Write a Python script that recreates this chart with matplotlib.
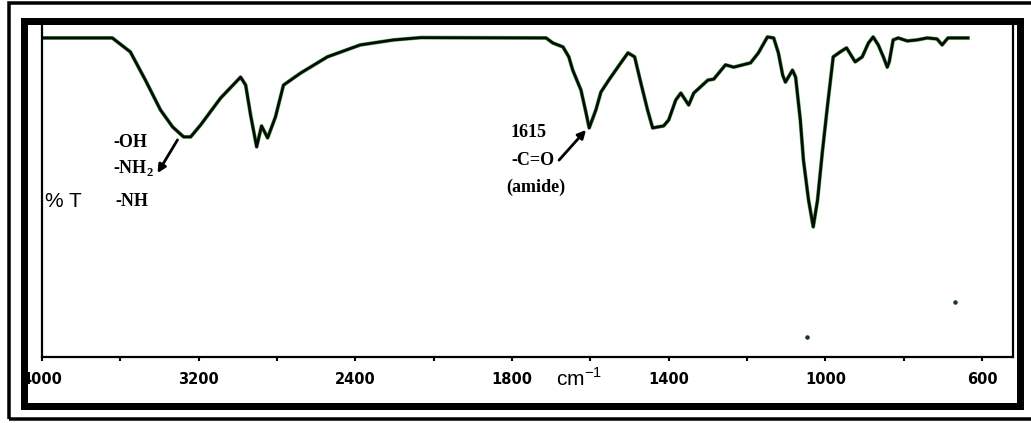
import numpy as np
import matplotlib
matplotlib.use('Agg')
import matplotlib.pyplot as plt
from matplotlib.patches import Rectangle

# FTIR spectrum (wavenumber cm-1, %T on a 0-100 scale)
wavenumber = [4000, 3641, 3549, 3472, 3395, 3333, 3277, 3241, 3190, 3088,
              2986, 2960, 2935, 2904, 2879, 2848, 2808, 2767, 2680, 2543,
              2381, 2254, 2150, 1713, 1696, 1670, 1655, 1645, 1624, 1611,
              1603, 1586, 1573, 1553, 1530, 1504, 1487, 1471, 1454, 1441,
              1413, 1400, 1382, 1369, 1349, 1336, 1300, 1285, 1255, 1234,
              1191, 1171, 1148, 1132, 1120, 1109, 1102, 1084, 1076, 1064,
              1056, 1043, 1031, 1020, 1008, 995, 980, 962, 946, 924,
              906, 890, 878, 865, 852, 842, 837, 827, 814, 791,
              766, 740, 715, 702, 687, 636]
transmittance = [96.1, 96.1, 91.9, 83.4, 74.4, 69.3, 66.3, 66.3, 69.9, 78.0,
                 84.3, 81.9, 72.9, 63.3, 69.6, 66.0, 72.3, 81.9, 85.5, 90.4,
                 94.0, 95.5, 96.2, 96.1, 94.6, 93.4, 90.4, 86.4, 80.4, 73.5,
                 69.0, 74.4, 79.8, 83.4, 87.3, 91.6, 90.4, 82.5, 74.4, 69.0,
                 69.6, 71.4, 77.4, 79.5, 75.9, 79.5, 83.4, 83.7, 88.0, 87.3,
                 88.6, 91.6, 96.4, 96.1, 91.6, 84.9, 82.8, 86.4, 84.3, 71.4,
                 59.3, 47.3, 39.2, 47.3, 61.4, 75.3, 90.4, 91.9, 93.1, 88.9,
                 90.4, 94.6, 96.4, 94.0, 90.4, 87.3, 88.9, 95.5, 96.1, 95.2,
                 95.5, 96.1, 95.8, 94.0, 96.1, 96.1]

# two stray specks in the scan
speck_wn = [669, 1046]
speck_t = [16.6, 6.0]

tick_vals = [4000, 3200, 2400, 1800, 1400, 1000, 600]
tick_labels = ['4000', '3200', '2400', '1800', '1400', '1000', '600']
minor_vals = [3600, 2800, 2100, 1600, 1200, 800]

# the instrument axis is linear between the labelled marks only
W_asc = np.array([600, 1000, 1400, 1800, 2400, 3200, 4000], float)
P = np.arange(7, dtype=float)


def fwd(w):
    w = np.asarray(w, float)
    out = np.interp(w, W_asc, P)
    out = np.where(w < 600, (w - 600) / 400.0, out)
    out = np.where(w > 4000, 6 + (w - 4000) / 800.0, out)
    return out


def inv(p):
    p = np.asarray(p, float)
    out = np.interp(p, P, W_asc)
    out = np.where(p < 0, 600 + p * 400.0, out)
    out = np.where(p > 6, 4000 + (p - 6) * 800.0, out)
    return out


plt.rcParams['mathtext.fontset'] = 'custom'
plt.rcParams['mathtext.rm'] = 'Liberation Sans'
plt.rcParams['mathtext.bf'] = 'Liberation Serif:bold'

W, H = 1031, 423
fig = plt.figure(figsize=(W / 100, H / 100), dpi=100)
ax = fig.add_axes([42 / W, (H - 357) / H, (1013 - 42) / W, (357 - 25) / H])
ax.set_xscale('function', functions=(fwd, inv))
ax.set_xlim(4000, 521)
ax.set_ylim(0, 100)

ax.plot(wavenumber, transmittance, color='#5fb35f', lw=2.8, solid_joinstyle='round')
ax.plot(wavenumber, transmittance, color='#070b07', lw=2.0, solid_joinstyle='round')
ax.scatter(speck_wn, speck_t, s=5, color='#1a3a1a', zorder=3)

ax.set_xticks(tick_vals)
ax.set_xticklabels(tick_labels)
ax.set_xticks(minor_vals, minor=True)
ax.set_yticks([])
ax.tick_params(axis='x', which='both', direction='out', length=3, width=1.5, pad=8)
for lab in ax.get_xticklabels():
    lab.set_fontfamily('DejaVu Sans')
    lab.set_fontweight('bold')
    lab.set_fontsize(10.5)
for s in ['left', 'bottom', 'right']:
    ax.spines[s].set_linewidth(1.6)
ax.spines['top'].set_visible(False)

ax.text(1688, -0.065, r'cm$^{\mathrm{-1}}$', transform=ax.get_xaxis_transform(),
        fontfamily='Liberation Sans', fontsize=15, va='center', ha='left')
ax.text(3985, 46.7, '% T', fontfamily='Liberation Sans', fontsize=15,
        va='center', ha='left')

serif = dict(fontfamily='Liberation Serif', fontweight='bold', fontsize=13,
             va='center', ha='left')
ax.text(3636, 64.5, '-OH', **serif)
ax.text(3636, 56.9, r'-NH$_\mathbf{2}$', **serif)
ax.text(3626, 46.7, '-NH', **serif)
ax.annotate('', xy=(3410, 55.4), xytext=(3308, 65.4),
            arrowprops=dict(arrowstyle='-|>', color='black', lw=2,
                            mutation_scale=12, shrinkA=0, shrinkB=0))
ax.text(1804, 67.5, '1615', **serif)
ax.text(1804, 59.3, '-C=O', **serif)
ax.text(1823, 51.2, '(amide)', **serif)
ax.annotate('', xy=(1611, 68.4), xytext=(1680, 59.3),
            arrowprops=dict(arrowstyle='-|>', color='black', lw=2,
                            mutation_scale=12, shrinkA=0, shrinkB=0))


def px_rect(x0, y0, x1, y1, lw_px):
    return Rectangle((x0 / W, 1 - y1 / H), (x1 - x0) / W, (y1 - y0) / H,
                     transform=fig.transFigure, fill=False, edgecolor='black',
                     linewidth=lw_px * 0.72, zorder=10)


# scanned page borders
fig.add_artist(px_rect(9, 3, 1045, 419, 3.5))
fig.add_artist(px_rect(23.5, 21.5, 1020, 406, 7))

fig.savefig('out.png', dpi=100)
